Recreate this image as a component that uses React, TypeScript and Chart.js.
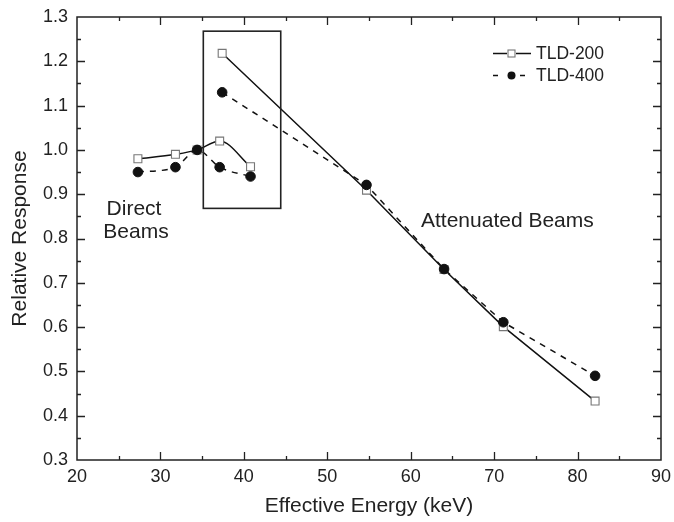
import React, { useEffect, useRef } from "react";
import { Chart, registerables } from "chart.js";

Chart.register(...registerables);

// Direct beams
const directEnergy = [27.3, 31.8, 34.4, 37.1, 40.8];
const directTLD200 = [0.98, 0.99, 1.0, 1.02, 0.962];
const directTLD400 = [0.95, 0.961, 1.0, 0.961, 0.94];
// Attenuated beams
const attEnergy = [37.4, 54.7, 64.0, 71.1, 82.1];
const attTLD200 = [1.218, 0.909, 0.73, 0.601, 0.433];
const attTLD400 = [1.13, 0.921, 0.731, 0.611, 0.49];

const seriesNames = ["TLD-200", "TLD-400"];
// highlighted region (data coordinates)
const boxX = [35.14, 44.42];
const boxY = [0.868, 1.268];

const xTicks = [20, 30, 40, 50, 60, 70, 80, 90];
const yTicks = [0.3, 0.4, 0.5, 0.6, 0.7, 0.8, 0.9, 1.0, 1.1, 1.2, 1.3];

const FONT = "'Liberation Sans', Arial, Helvetica, sans-serif";
const TEXT = "#222";

const pts = (xs: number[], ys: number[]) => xs.map((x, i) => ({ x, y: ys[i] }));

const decorPlugin = {
  id: "decor",
  afterDatasetsDraw(chart: any) {
    const { ctx, chartArea: a, scales } = chart;
    const xs = scales.x;
    const ys = scales.y;
    ctx.save();
    // frame
    ctx.strokeStyle = "#222";
    ctx.lineWidth = 1.5;
    ctx.strokeRect(a.left, a.top, a.right - a.left, a.bottom - a.top);
    // inward ticks
    ctx.lineWidth = 1.3;
    ctx.beginPath();
    for (let v = 25; v < 90; v += 5) {
      const px = Math.round(xs.getPixelForValue(v)) + 0.5;
      const len = v % 10 === 0 ? 8 : 4;
      ctx.moveTo(px, a.bottom);
      ctx.lineTo(px, a.bottom - len);
      ctx.moveTo(px, a.top);
      ctx.lineTo(px, a.top + len);
    }
    for (let k = 7; k < 26; k++) {
      const v = k * 0.05;
      const py = Math.round(ys.getPixelForValue(v)) + 0.5;
      const len = k % 2 === 0 ? 8 : 4;
      ctx.moveTo(a.left, py);
      ctx.lineTo(a.left + len, py);
      ctx.moveTo(a.right, py);
      ctx.lineTo(a.right - len, py);
    }
    ctx.stroke();
    // box
    ctx.lineWidth = 1.6;
    const bx0 = xs.getPixelForValue(boxX[0]);
    const bx1 = xs.getPixelForValue(boxX[1]);
    const by0 = ys.getPixelForValue(boxY[1]);
    const by1 = ys.getPixelForValue(boxY[0]);
    ctx.strokeRect(bx0, by0, bx1 - bx0, by1 - by0);

    // annotations
    ctx.fillStyle = TEXT;
    ctx.font = `21px ${FONT}`;
    ctx.textBaseline = "alphabetic";
    ctx.textAlign = "center";
    ctx.fillText("Direct", 134, 215);
    ctx.fillText("Beams", 136, 238);
    ctx.textAlign = "left";
    ctx.fillText("Attenuated Beams", 421, 227);

    // legend
    ctx.font = `17.5px ${FONT}`;
    ctx.textBaseline = "middle";
    ctx.fillText(seriesNames[0], 536, 54);
    ctx.fillText(seriesNames[1], 536, 76);
    ctx.strokeStyle = "#111";
    ctx.lineWidth = 1.5;
    ctx.beginPath();
    ctx.moveTo(493, 53.5);
    ctx.lineTo(507, 53.5);
    ctx.moveTo(516, 53.5);
    ctx.lineTo(531, 53.5);
    ctx.moveTo(493, 75.5);
    ctx.lineTo(498, 75.5);
    ctx.moveTo(520, 75.5);
    ctx.lineTo(525, 75.5);
    ctx.stroke();
    ctx.fillStyle = "#fff";
    ctx.strokeStyle = "#777";
    ctx.lineWidth = 1.1;
    ctx.fillRect(508, 50, 7, 7);
    ctx.strokeRect(508, 50, 7, 7);
    ctx.fillStyle = "#111";
    ctx.beginPath();
    ctx.arc(511.5, 75.5, 4, 0, Math.PI * 2);
    ctx.fill();
    ctx.restore();
  },
};

export default function App() {
  const ref = useRef<HTMLCanvasElement | null>(null);
  useEffect(() => {
    if (!ref.current) return;
    const circleStyle = {
      pointStyle: "circle",
      pointRadius: 4.8,
      pointBackgroundColor: "#111",
      pointBorderColor: "#111",
      pointBorderWidth: 1,
      borderColor: "#111",
      borderWidth: 1.5,
      borderDash: [6, 6],
      showLine: true,
      fill: false,
    };
    const squareStyle = {
      pointStyle: "rect",
      pointRadius: 5.6,
      pointBackgroundColor: "#fff",
      pointBorderColor: "#777",
      pointBorderWidth: 1.1,
      borderColor: "#111",
      borderWidth: 1.5,
      showLine: true,
      fill: false,
    };
    const smooth = { cubicInterpolationMode: "monotone", tension: 0.4 };
    const chart = new Chart(ref.current, {
      type: "scatter",
      data: {
        datasets: [
          { label: seriesNames[1], data: pts(directEnergy, directTLD400), ...smooth, ...circleStyle },
          { label: seriesNames[1], data: pts(attEnergy, attTLD400), tension: 0, ...circleStyle },
          { label: seriesNames[0], data: pts(directEnergy, directTLD200), ...smooth, ...squareStyle },
          { label: seriesNames[0], data: pts(attEnergy, attTLD200), tension: 0, ...squareStyle },
        ] as any,
      },
      options: {
        animation: false,
        responsive: false,
        maintainAspectRatio: false,
        layout: { padding: { top: 17, right: 13, left: 0, bottom: 0 } },
        plugins: {
          legend: { display: false },
          tooltip: { enabled: false },
        },
        scales: {
          x: {
            type: "linear",
            min: 20,
            max: 90,
            afterBuildTicks: (s: any) => {
              s.ticks = xTicks.map((v) => ({ value: v }));
            },
            afterFit: (s: any) => {
              s.height = 62;
              s.paddingLeft = 0;
              s.paddingRight = 0;
            },
            grid: { display: false, drawTicks: false },
            border: { display: false },
            ticks: {
              color: TEXT,
              font: { family: FONT, size: 18 },
              padding: 6,
              maxRotation: 0,
              autoSkip: false,
              callback: (v: any) => String(v),
            },
            title: {
              display: true,
              text: "Effective Energy (keV)",
              color: TEXT,
              font: { family: FONT, size: 21 },
              padding: { top: 0, bottom: 3 },
            },
          },
          y: {
            type: "linear",
            min: 0.3,
            max: 1.3,
            afterBuildTicks: (s: any) => {
              s.ticks = yTicks.map((v) => ({ value: v }));
            },
            afterFit: (s: any) => {
              s.width = 77;
              s.paddingTop = 0;
              s.paddingBottom = 0;
            },
            grid: { display: false, drawTicks: false },
            border: { display: false },
            ticks: {
              color: TEXT,
              font: { family: FONT, size: 18 },
              padding: 9,
              autoSkip: false,
              callback: (v: any) => Number(v).toFixed(1),
            },
            title: {
              display: true,
              text: "Relative Response",
              color: TEXT,
              font: { family: FONT, size: 21 },
              padding: { top: 8, bottom: 0 },
            },
          },
        },
      } as any,
      plugins: [decorPlugin],
    });
    return () => chart.destroy();
  }, []);
  return (
    <div style={{ position: "fixed", left: 0, top: 0, width: 674, height: 522, background: "#fff" }}>
      <canvas ref={ref} width={674} height={522} style={{ display: "block", width: 674, height: 522 }} />
    </div>
  );
}
